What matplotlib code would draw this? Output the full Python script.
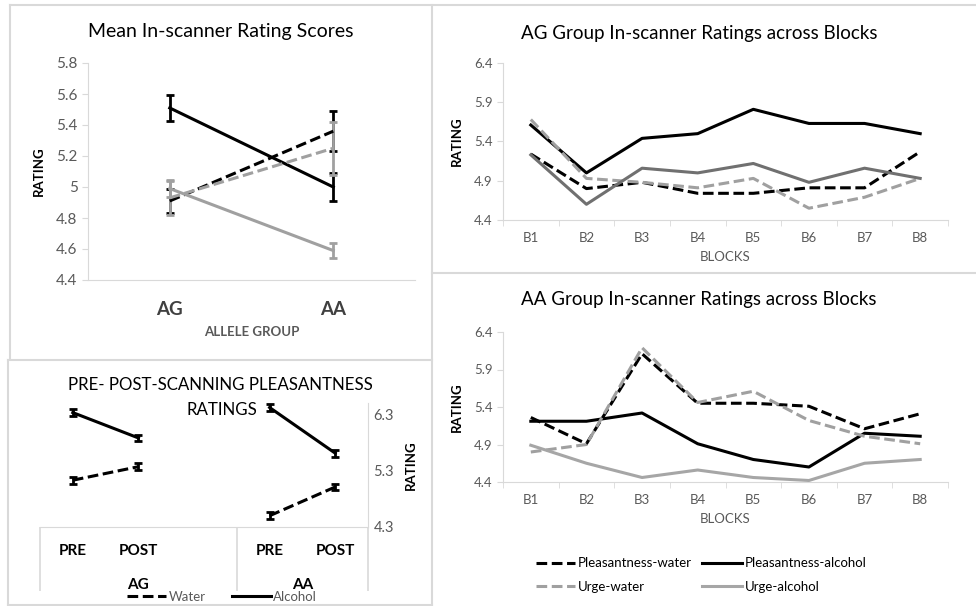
import numpy as np
import matplotlib
matplotlib.use("Agg")
import matplotlib.pyplot as plt
from matplotlib.lines import Line2D

plt.rcParams['font.family'] = ['Lato', 'DejaVu Sans']

# ---- data ----
allele_groups = ["AG", "AA"]
mean_p_alc = [5.51, 5.00]
mean_p_alc_err = [0.085, 0.09]
mean_p_wat = [4.91, 5.36]
mean_p_wat_err = [0.08, 0.13]
mean_u_wat = [4.93, 5.25]
mean_u_wat_err = [0.11, 0.17]
mean_u_alc = [4.99, 4.59]
mean_u_alc_err = [0.055, 0.05]

prepost_labels = ["PRE", "POST", "", "PRE", "POST"]
ag_water = [5.13, 5.37]
ag_alcohol = [6.33, 5.88]
aa_water = [4.50, 5.01]
aa_alcohol = [6.42, 5.61]
prepost_err = 0.06

blocks = ["B1", "B2", "B3", "B4", "B5", "B6", "B7", "B8"]
ag_pw = [5.24, 4.80, 4.88, 4.74, 4.74, 4.81, 4.81, 5.27]
ag_pa = [5.61, 5.00, 5.44, 5.50, 5.81, 5.63, 5.63, 5.50]
ag_uw = [5.68, 4.93, 4.88, 4.81, 4.93, 4.55, 4.69, 4.93]
ag_ua = [5.23, 4.60, 5.06, 5.00, 5.12, 4.88, 5.06, 4.93]

aa_pw = [5.26, 4.91, 6.11, 5.45, 5.45, 5.41, 5.11, 5.31]
aa_pa = [5.21, 5.21, 5.32, 4.91, 4.70, 4.60, 5.05, 5.01]
aa_uw = [4.80, 4.90, 6.19, 5.46, 5.61, 5.22, 5.01, 4.91]
aa_ua = [4.89, 4.65, 4.46, 4.56, 4.46, 4.42, 4.65, 4.70]

W, H = 976, 606
def box(l, t, r, b):
    return [l / W, 1 - b / H, (r - l) / W, (b - t) / H]

def fpos(x, y):
    return (x / W, 1 - y / H)

TICK_GRAY = "#595959"
AX_GRAY = "#d9d9d9"
BORDER = "#d9d9d9"
GRAY_DASH = "#a0a0a0"
DASH = (0, (3.5, 1.5))

fig = plt.figure(figsize=(9.76, 6.06), dpi=100)

# panel borders
def fline(x0, y0, x1, y1):
    fig.add_artist(Line2D([x0 / W, x1 / W], [1 - y0 / H, 1 - y1 / H],
                          color=BORDER, lw=1.5))
fline(10, 5, 976, 5)
fline(10, 5, 10, 359)
fline(8, 360, 8, 605)
fline(8, 360, 432, 360)
fline(8, 605, 432, 605)
fline(432, 5, 432, 606)
fline(432, 273, 976, 273)

# ---- panel 1: mean ratings ----
ax1 = fig.add_axes(box(88, 63, 415, 280))
x = np.arange(len(allele_groups)) + 0.5
ekw = dict(lw=2.2, capsize=3, elinewidth=2, capthick=2)
ax1.errorbar(x, mean_p_alc, yerr=mean_p_alc_err, color="black", **ekw)
ax1.errorbar(x, mean_p_wat, yerr=mean_p_wat_err, color="black", ls=DASH, **ekw)
ax1.errorbar(x, mean_u_wat, yerr=mean_u_wat_err, color=GRAY_DASH, ls=DASH, **ekw)
ax1.errorbar(x, mean_u_alc, yerr=mean_u_alc_err, color=GRAY_DASH, **ekw)
ax1.set_xlim(0, 2)
ax1.set_ylim(4.4, 5.8)
ax1.set_yticks([4.4, 4.6, 4.8, 5.0, 5.2, 5.4, 5.6, 5.8])
ax1.set_yticklabels(["4.4", "4.6", "4.8", "5", "5.2", "5.4", "5.6", "5.8"])
ax1.set_xticks(x)
ax1.set_xticklabels(allele_groups, fontsize=13.5, fontweight="bold", color="#404040")
ax1.tick_params(axis="x", length=0, pad=15)
ax1.tick_params(axis="y", colors=AX_GRAY, labelcolor=TICK_GRAY, labelsize=11, length=4)
for s in ["top", "right"]:
    ax1.spines[s].set_visible(False)
for s in ["left", "bottom"]:
    ax1.spines[s].set_color(AX_GRAY)
fig.text(*fpos(221, 32), "Mean In-scanner Rating Scores", fontsize=14,
         ha="center", va="center")
ax1.set_ylabel("RATING", fontsize=9.5, fontweight="bold", labelpad=8)
ax1.set_xlabel("ALLELE GROUP", fontsize=9.5, fontweight="bold", color=TICK_GRAY, labelpad=6)

# ---- panel 2: pre/post ----
ax2 = fig.add_axes(box(40, 403, 368, 527))
pkw = dict(color="black", lw=2.2, capsize=3, elinewidth=2, capthick=2)
ax2.errorbar([0.5, 1.5], ag_water, yerr=prepost_err, ls=DASH, **pkw)
ax2.errorbar([0.5, 1.5], ag_alcohol, yerr=prepost_err, **pkw)
ax2.errorbar([3.5, 4.5], aa_water, yerr=prepost_err, ls=DASH, **pkw)
ax2.errorbar([3.5, 4.5], aa_alcohol, yerr=prepost_err, **pkw)
ax2.set_xlim(0, 5)
ax2.set_ylim(4.3, 6.5)
ax2.set_yticks([4.3, 5.3, 6.3])
ax2.yaxis.tick_right()
ax2.yaxis.set_label_position("right")
ax2.tick_params(axis="y", colors=AX_GRAY, labelcolor=TICK_GRAY, labelsize=10.5, length=0, pad=4)
ax2.set_xticks(np.arange(5) + 0.5)
ax2.set_xticklabels(prepost_labels, fontsize=11, fontweight="bold")
ax2.tick_params(axis="x", length=0, pad=12)
ax2.set_xticks([0, 3, 5], minor=True)
ax2.tick_params(axis="x", which="minor", length=46, width=1.2, color=AX_GRAY)
sec = ax2.secondary_xaxis("bottom")
sec.set_xticks([1.5, 4.0])
sec.set_xticklabels(allele_groups, fontsize=11, fontweight="bold")
sec.tick_params(length=0, pad=37)
sec.spines["bottom"].set_visible(False)
for s in ["top", "left"]:
    ax2.spines[s].set_visible(False)
for s in ["right", "bottom"]:
    ax2.spines[s].set_color(AX_GRAY)
ax2.set_ylabel("RATING", fontsize=9.5, fontweight="bold", labelpad=8)
fig.text(*fpos(220, 385), "PRE- POST-SCANNING PLEASANTNESS", fontsize=12.2,
         ha="center", va="center")
fig.text(*fpos(222, 410), "RATINGS", fontsize=12.2, ha="center", va="center")
h_w = Line2D([], [], color="black", lw=2.2, ls=DASH)
h_a = Line2D([], [], color="black", lw=2.2)
fig.legend([h_w, h_a], ["Water", "Alcohol"], ncol=2, frameon=False,
           loc="center", bbox_to_anchor=fpos(222, 597), fontsize=9.5,
           labelcolor=TICK_GRAY, handlelength=3, handletextpad=0.15,
           columnspacing=2.0, borderpad=0)

# ---- panels 3 and 4: blocks ----
def blocks_panel(rect, title, ty, pw, pa, uw, ua, ua_color):
    ax = fig.add_axes(rect)
    xb = np.arange(len(blocks))
    l1, = ax.plot(xb, pw, color="black", lw=2.2, ls=DASH)
    l2, = ax.plot(xb, pa, color="black", lw=2.2)
    l3, = ax.plot(xb, uw, color=GRAY_DASH, lw=2.2, ls=DASH)
    l4, = ax.plot(xb, ua, color=ua_color, lw=2.2)
    ax.set_xlim(-0.5, len(blocks) - 0.5)
    ax.set_ylim(4.4, 6.4)
    ax.set_yticks([4.4, 4.9, 5.4, 5.9, 6.4])
    ax.set_xticks(xb)
    ax.set_xticklabels(blocks)
    ax.set_xticks(np.arange(len(blocks) + 1) - 0.5, minor=True)
    ax.tick_params(axis="x", length=0, pad=9, labelsize=9.5, labelcolor=TICK_GRAY)
    ax.tick_params(axis="x", which="minor", length=4, color=AX_GRAY)
    ax.tick_params(axis="y", length=4, color=AX_GRAY, labelsize=9.5, labelcolor=TICK_GRAY)
    for s in ["top", "right"]:
        ax.spines[s].set_visible(False)
    for s in ["left", "bottom"]:
        ax.spines[s].set_color(AX_GRAY)
    fig.text(*fpos(699, ty), title, fontsize=13.5, ha="center", va="center")
    ax.set_ylabel("RATING", fontsize=9.5, fontweight="bold", labelpad=8)
    ax.set_xlabel("BLOCKS", fontsize=9.5, color=TICK_GRAY, labelpad=5)
    return ax, (l1, l2, l3, l4)

ax3, _ = blocks_panel(box(503, 63, 948, 220), "AG Group In-scanner Ratings across Blocks", 33,
                      ag_pw, ag_pa, ag_uw, ag_ua, "#707070")
ax4, hs = blocks_panel(box(503, 332, 948, 482), "AA Group In-scanner Ratings across Blocks", 300,
                       aa_pw, aa_pa, aa_uw, aa_ua, "#a6a6a6")
fig.legend([hs[0], hs[2], hs[1], hs[3]],
           ["Pleasantness-water", "Urge-water", "Pleasantness-alcohol", "Urge-alcohol"],
           ncol=2, frameon=False, loc="center", bbox_to_anchor=fpos(701, 575),
           fontsize=9.5, handlelength=3, handletextpad=0.2, columnspacing=0.8,
           labelspacing=0.85, borderpad=0)

fig.savefig("out.png", dpi=100)
